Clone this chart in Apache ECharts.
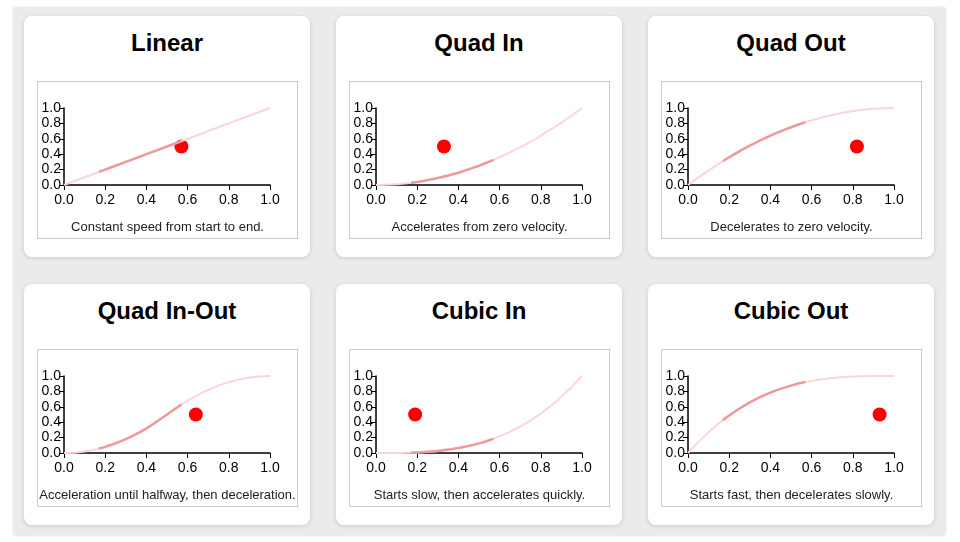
<!DOCTYPE html>
<html><head><meta charset="utf-8">
<script src="https://cdn.jsdelivr.net/npm/echarts@6/dist/echarts.min.js"></script>
<style>
body{margin:0;width:960px;height:542px;background:#fff;font-family:"Liberation Sans",Arial,sans-serif;overflow:hidden}
#bg{position:absolute;left:14px;top:8px;width:931px;height:527px;background:#ebebeb;box-shadow:0 0 3px #ccc}
.card{position:absolute;width:286px;height:241px;background:#fff;border-radius:8px;box-shadow:0 1px 4px rgba(0,0,0,0.15)}
.title{position:absolute;left:0;width:100%;top:13px;text-align:center;font-weight:bold;font-size:24px;color:#000}
.box{position:absolute;left:13px;top:65px;width:259px;height:156px;border:1px solid #ccc;overflow:hidden}
.chart{position:absolute;left:0;top:0;width:259px;height:156px}
.cap{position:absolute;left:0;width:100%;bottom:4px;text-align:center;font-size:13px;color:#222}
</style></head><body>
<div id="bg"></div>
<script>
const titles=["Linear","Quad In","Quad Out","Quad In-Out","Cubic In","Cubic Out"];
const captions=["Constant speed from start to end.","Accelerates from zero velocity.","Decelerates to zero velocity.","Acceleration until halfway, then deceleration.","Starts slow, then accelerates quickly.","Starts fast, then decelerates slowly."];
const xs=[0,0.1,0.2,0.3,0.4,0.5,0.6,0.7,0.8,0.9,1];
const linear=[0,0.1,0.2,0.3,0.4,0.5,0.6,0.7,0.8,0.9,1];
const quadIn=[0,0.01,0.04,0.09,0.16,0.25,0.36,0.49,0.64,0.81,1];
const quadOut=[0,0.19,0.36,0.51,0.64,0.75,0.84,0.91,0.96,0.99,1];
const quadInOut=[0,0.02,0.08,0.18,0.32,0.5,0.68,0.82,0.92,0.98,1];
const cubicIn=[0,0.001,0.008,0.027,0.064,0.125,0.216,0.343,0.512,0.729,1];
const cubicOut=[0,0.271,0.488,0.657,0.784,0.875,0.936,0.973,0.992,0.999,1];
const segXs=[0.17,0.2,0.3,0.4,0.5,0.57];
const segLinear=[0.17,0.2,0.3,0.4,0.5,0.57];
const segQuadIn=[0.029,0.04,0.09,0.16,0.25,0.325];
const segQuadOut=[0.311,0.36,0.51,0.64,0.75,0.815];
const segQuadInOut=[0.058,0.08,0.18,0.32,0.5,0.63];
const segCubicIn=[0.005,0.008,0.027,0.064,0.125,0.185];
const segCubicOut=[0.428,0.488,0.657,0.784,0.875,0.921];
const dotX=[0.57,0.33,0.82,0.64,0.19,0.93];
const dotY=[0.5,0.5,0.5,0.5,0.5,0.5];
const curves=[linear,quadIn,quadOut,quadInOut,cubicIn,cubicOut];
const segs=[segLinear,segQuadIn,segQuadOut,segQuadInOut,segCubicIn,segCubicOut];
const cardLeft=[24,336,648],cardTop=[16,284];
const lbl={color:'#000',fontSize:14,fontFamily:'Liberation Sans',formatter:v=>v.toFixed(1)};
const base={type:'value',min:0,max:1,interval:0.2,splitLine:{show:false},
  axisLine:{show:true,lineStyle:{color:'#000',width:1.5}},axisTick:{show:true,length:5,lineStyle:{color:'#000'}}};
for(let i=0;i<6;i++){
  const c=document.createElement('div');c.className='card';
  c.style.left=cardLeft[i%3]+'px';c.style.top=cardTop[Math.floor(i/3)]+'px';
  c.innerHTML='<div class="title">'+titles[i]+'</div><div class="box"><div class="chart"></div><div class="cap">'+captions[i]+'</div></div>';
  document.body.appendChild(c);
  const ch=echarts.init(c.querySelector('.chart'));
  ch.setOption({animation:false,
    grid:{left:26,right:27,top:26,bottom:53},
    xAxis:Object.assign({},base,{axisLabel:Object.assign({},lbl,{margin:8})}),
    yAxis:Object.assign({},base,{axisLabel:Object.assign({},lbl,{margin:3})}),
    series:[
      {type:'line',smooth:true,symbol:'none',data:xs.map((x,k)=>[x,curves[i][k]]),lineStyle:{color:'#fbd5d8',width:2}},
      {type:'line',smooth:true,symbol:'none',data:segXs.map((x,k)=>[x,segs[i][k]]),lineStyle:{color:'#ef9a9a',width:2.5}},
      {type:'scatter',symbolSize:14,data:[[dotX[i],dotY[i]]],itemStyle:{color:'#ff0000',opacity:1}}
    ]});
}
</script></body></html>
